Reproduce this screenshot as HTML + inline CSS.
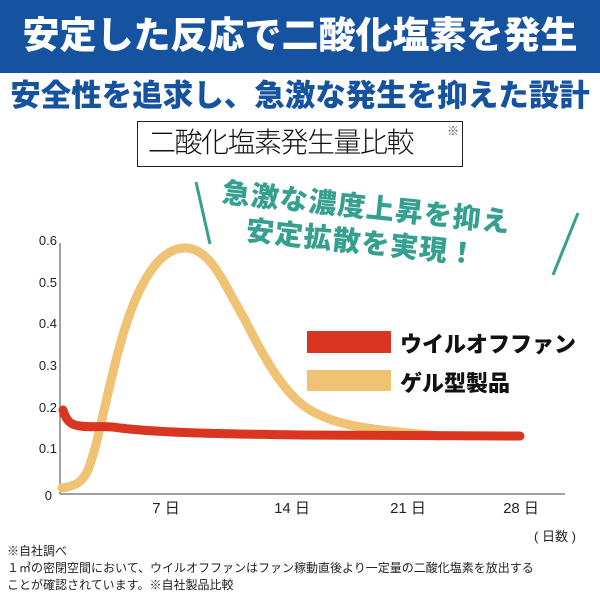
<!DOCTYPE html>
<html><head><meta charset="utf-8"><style>
body{margin:0;width:600px;height:600px;background:#fff;overflow:hidden;position:relative;font-family:"Liberation Sans","Noto Sans CJK JP",sans-serif;}
.a{position:absolute;white-space:nowrap;}
</style></head><body>
<div class="a" style="left:0;top:0;width:600px;height:73px;background:#1553a0;"></div>
<div class="a" style="left:0;top:10px;width:600px;text-align:center;color:#fff;font-weight:900;font-size:37px;line-height:52px;">安定した反応で二酸化塩素を発生</div>
<div class="a" style="left:0;top:76px;width:600px;text-align:center;color:#1553a0;font-weight:900;font-size:30.5px;line-height:40px;">安全性を追求し、急激な発生を抑えた設計</div>
<div class="a" style="left:137px;top:121px;width:324px;height:44px;border:1px solid #222;"></div>
<div class="a" style="left:148px;top:120px;font-size:28px;line-height:46px;color:#111;letter-spacing:-1.5px;font-weight:300;">二酸化塩素発生量比較</div>
<div class="a" style="left:447px;top:122px;font-size:12px;color:#555;">※</div>
<div class="a" style="left:224px;top:174px;color:#35a08f;font-weight:900;font-size:28px;line-height:38px;transform:rotate(6deg);transform-origin:left top;letter-spacing:1px;">急激な濃度上昇を抑え</div>
<div class="a" style="left:248px;top:212px;color:#35a08f;font-weight:900;font-size:28px;line-height:38px;transform:rotate(6deg);transform-origin:left top;letter-spacing:1px;">安定拡散を実現！</div>
<svg class="a" style="left:0;top:0" width="600" height="600">
<line x1="196" y1="182" x2="210" y2="244" stroke="#35a08f" stroke-width="3"/>
<line x1="578" y1="213" x2="553" y2="275" stroke="#35a08f" stroke-width="3"/>
<line x1="60" y1="243" x2="60" y2="494" stroke="#444" stroke-width="1"/>
<line x1="60" y1="494" x2="565" y2="494" stroke="#444" stroke-width="1"/>
<g font-size="13" fill="#222" text-anchor="end" font-family="Liberation Sans">
<text x="57" y="245">0.6</text><text x="57" y="287">0.5</text><text x="57" y="328">0.4</text>
<text x="57" y="370">0.3</text><text x="57" y="412">0.2</text><text x="57" y="453">0.1</text><text x="52" y="500">0</text>
</g>
<g font-size="15" fill="#222" text-anchor="middle" font-family="Liberation Sans,Noto Sans CJK JP,sans-serif">
<text x="166" y="513">7 日</text><text x="292" y="513">14 日</text><text x="408" y="513">21 日</text><text x="521" y="513">28 日</text>
<text x="555" y="541" font-size="13">( 日数 )</text>
</g>
<path d="M62,488 C75,486 82,483 88,470 C98,445 105,400 120,345 C138,280 160,248 185,248 C210,248 222,280 245,320 C265,360 285,395 310,410 C340,428 380,430 440,436" fill="none" stroke="#efc274" stroke-width="9" stroke-linecap="round"/>
<path d="M63,410 C66,420 70,425 80,426 C95,428 105,425 120,428 C160,433 230,434 300,435 C380,436 450,436 520,436" fill="none" stroke="#d93520" stroke-width="9" stroke-linecap="round"/>
<rect x="307" y="331" width="84" height="22" fill="#d93520"/>
<rect x="307" y="370" width="84" height="21" fill="#efc274"/>
</svg>
<div class="a" style="left:400px;top:327px;font-weight:900;font-size:22px;color:#111;">ウイルオフファン</div>
<div class="a" style="left:400px;top:366px;font-weight:900;font-size:22px;color:#111;">ゲル型製品</div>
<div class="a" style="left:7px;top:543px;font-size:12px;color:#222;line-height:17px;">※自社調べ<br>１㎥の密閉空間において、ウイルオフファンはファン稼動直後より一定量の二酸化塩素を放出する<br>ことが確認されています。※自社製品比較</div>
</body></html>
